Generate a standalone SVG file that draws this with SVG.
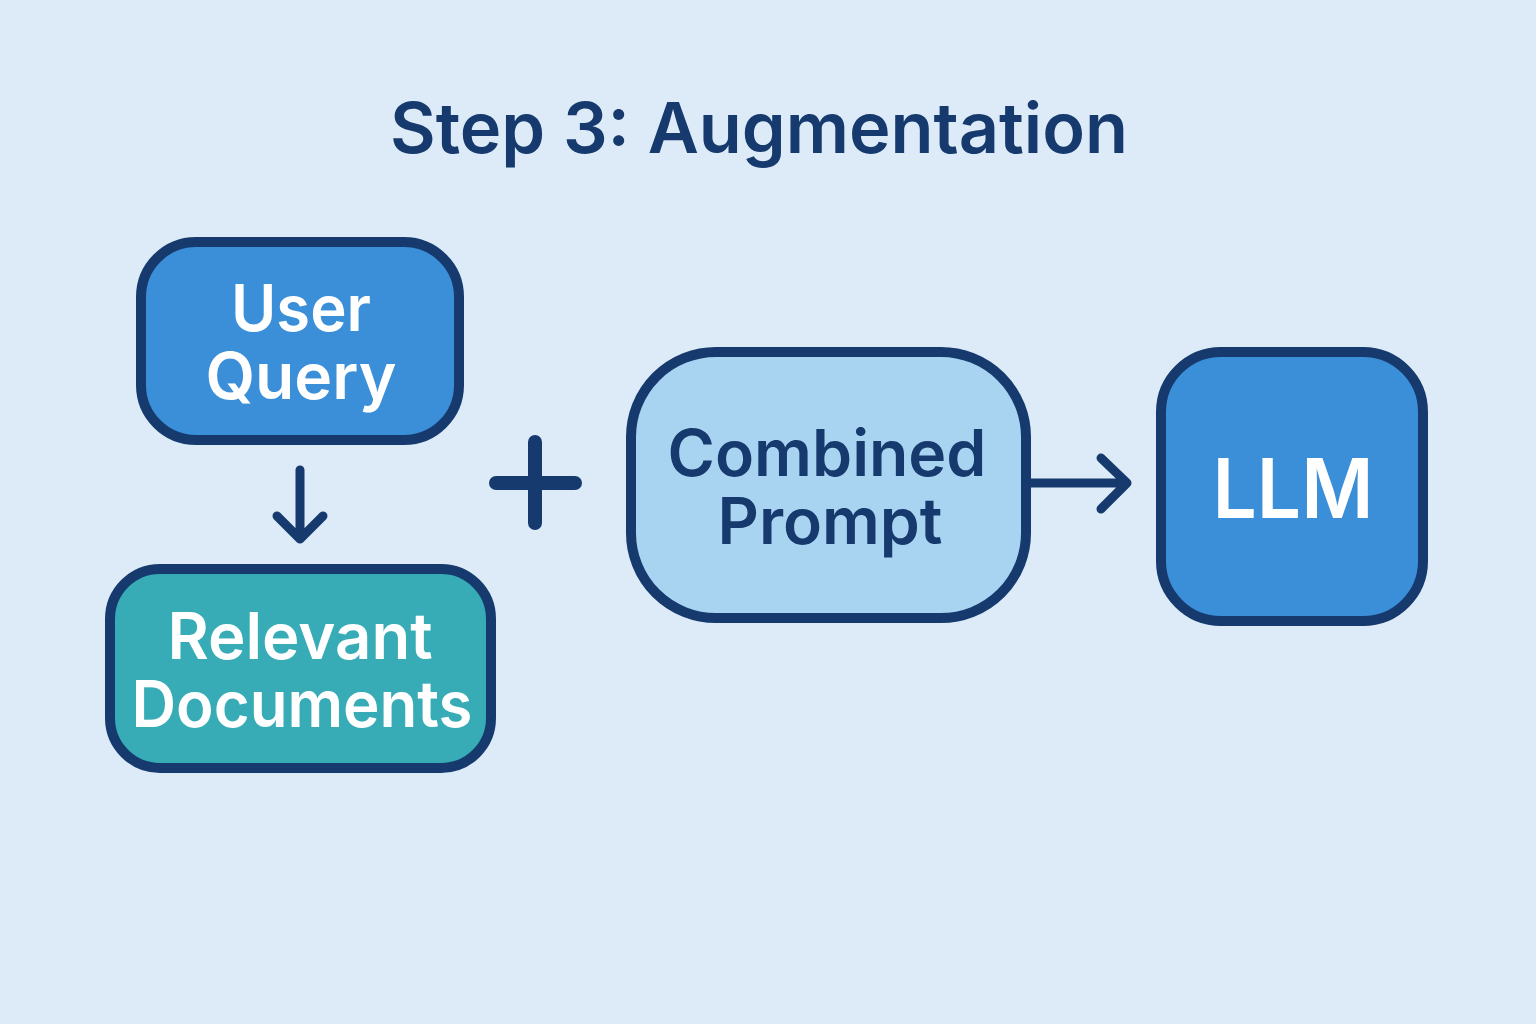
<svg xmlns="http://www.w3.org/2000/svg" width="1536" height="1024" viewBox="0 0 1536 1024">
<defs>
<style>
.box{stroke:#163a6e;stroke-width:10}
.lbl{font-family:Inter,"Liberation Sans",sans-serif;font-weight:600;text-anchor:middle}
.w{fill:#ffffff}
.d{fill:#163a6e}
.conn{stroke:#163a6e;stroke-width:9;fill:none;stroke-linecap:round;stroke-linejoin:round}
</style>
</defs>
<rect x="0" y="0" width="1536" height="1024" fill="#dcebf7"/>
<text id="title" class="lbl d" x="759" y="153" font-size="70" textLength="738" lengthAdjust="spacingAndGlyphs">Step 3: Augmentation</text>
<g id="user-query">
<rect class="box" x="141" y="242" width="318" height="198" rx="55" fill="#3a8fd8"/>
<text class="lbl w" x="301" y="331" font-size="64" textLength="140" lengthAdjust="spacingAndGlyphs">User</text>
<text class="lbl w" x="301" y="399" font-size="64" textLength="191" lengthAdjust="spacingAndGlyphs">Query</text>
</g>
<g id="relevant-documents">
<rect class="box" x="110" y="569" width="381" height="199" rx="50" fill="#38acb6"/>
<text class="lbl w" x="300" y="659" font-size="64" textLength="265" lengthAdjust="spacingAndGlyphs">Relevant</text>
<text class="lbl w" x="302" y="727" font-size="64" textLength="341" lengthAdjust="spacingAndGlyphs">Documents</text>
</g>
<g id="combined-prompt">
<rect class="box" x="631" y="352" width="395" height="266" rx="85" fill="#a9d4f1"/>
<text class="lbl d" x="827" y="476" font-size="64" textLength="319" lengthAdjust="spacingAndGlyphs">Combined</text>
<text class="lbl d" x="830" y="544" font-size="64" textLength="225" lengthAdjust="spacingAndGlyphs">Prompt</text>
</g>
<g id="llm">
<rect class="box" x="1161" y="352" width="262" height="269" rx="60" fill="#3a8fd8"/>
<text class="lbl w" x="1293" y="518" font-size="82" textLength="161" lengthAdjust="spacingAndGlyphs">LLM</text>
</g>
<g id="connectors">
<path class="conn" d="M300 470 V538 M277 516 L300 539 L323 516"/>
<path class="conn" style="stroke-width:14;stroke-linecap:round" d="M496 483 H575 M535 442 V523"/>
<path class="conn" d="M1031 483 H1127 M1101 458 L1127 483 L1101 509"/>
</g>
</svg>
